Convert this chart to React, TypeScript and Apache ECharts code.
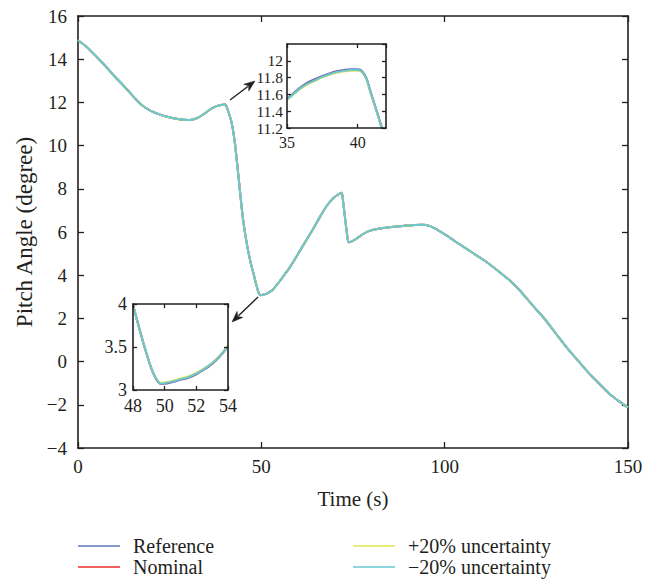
import React, { useEffect, useRef } from "react";
import * as echarts from "echarts";

// ---------- data ----------
const seriesNames = ["Reference", "Nominal", "+20% uncertainty", "\u221220% uncertainty"];
const seriesColors = ["#6274c2", "#ee2b2b", "#e4e44e", "#68c9d2"];

// main trajectory (all four responses coincide at this scale)
const timeS = [
  0, 2, 4, 6, 8, 10, 12, 14, 16, 18, 20, 22, 24, 26, 28, 30, 31, 32, 33, 34, 35, 36, 37, 38, 39, 40,
  40.4, 40.8, 41.3, 41.7, 42.2, 42.8, 43.5, 44.2, 45, 46, 47, 48, 48.4, 48.85, 49.25, 49.6, 49.9,
  50.5, 51.5, 52.5, 53.2, 54, 55, 56, 58, 60, 62, 64, 66, 68, 70, 71, 71.9, 72.3, 72.8, 73.3, 73.8,
  74.5, 76, 78, 79.5, 82, 85, 88, 91, 94, 96, 98, 100.5, 103, 106, 109, 111.5, 115, 118, 120.5,
  124, 127, 130, 133.3, 136.5, 139.6, 142.5, 145, 147.5, 150,
];
const pitchDeg = [
  14.88, 14.62, 14.3, 13.95, 13.58, 13.2, 12.85, 12.48, 12.1, 11.8, 11.6, 11.46, 11.35, 11.27, 11.21,
  11.19, 11.2, 11.24, 11.32, 11.43, 11.54, 11.67, 11.77, 11.84, 11.88, 11.9,
  11.86, 11.67, 11.42, 11.2, 10.8, 10.1, 9.0, 7.85, 6.6, 5.5, 4.65, 3.99, 3.7, 3.42, 3.19, 3.09, 3.07,
  3.1, 3.15, 3.25, 3.34, 3.51, 3.72, 3.95, 4.42, 4.98, 5.55, 6.1, 6.7, 7.25, 7.62, 7.74, 7.82, 7.4,
  6.7, 6.0, 5.52, 5.55, 5.7, 5.93, 6.05, 6.15, 6.22, 6.27, 6.31, 6.33, 6.27, 6.1, 5.84, 5.55, 5.22,
  4.88, 4.6, 4.14, 3.72, 3.29, 2.6, 2.03, 1.37, 0.65, 0.02, -0.58, -1.08, -1.5, -1.83, -2.12,
];

// inset 1 (35 s .. 42 s)
const inset1Time = [35, 35.5, 36, 36.5, 37, 37.5, 38, 38.5, 39, 39.5, 40, 40.3, 40.6, 40.9, 41.2, 41.5, 41.8, 42];
const inset1Reference = [11.55, 11.62, 11.69, 11.745, 11.785, 11.82, 11.85, 11.875, 11.89, 11.9, 11.9, 11.88, 11.8, 11.64, 11.48, 11.32, 11.15, 11.0];
const inset1Nominal = [11.54, 11.61, 11.68, 11.73, 11.77, 11.81, 11.84, 11.865, 11.88, 11.89, 11.89, 11.87, 11.79, 11.63, 11.47, 11.31, 11.14, 10.98];
const inset1Plus20 = [11.535, 11.605, 11.672, 11.722, 11.762, 11.802, 11.832, 11.857, 11.872, 11.882, 11.882, 11.862, 11.782, 11.622, 11.462, 11.3, 11.13, 10.975];
const inset1Minus20 = [11.54, 11.61, 11.68, 11.73, 11.77, 11.81, 11.84, 11.865, 11.88, 11.89, 11.89, 11.87, 11.79, 11.63, 11.47, 11.31, 11.14, 10.98];

// inset 2 (48 s .. 54 s)
const inset2Time = [48, 48.25, 48.5, 48.75, 49, 49.25, 49.5, 49.75, 50, 50.5, 51, 51.5, 52, 52.5, 53, 53.5, 54];
const inset2Reference = [3.99, 3.81, 3.645, 3.485, 3.335, 3.205, 3.115, 3.072, 3.073, 3.093, 3.118, 3.143, 3.183, 3.238, 3.303, 3.393, 3.503];
const inset2Nominal = [3.99, 3.82, 3.65, 3.49, 3.34, 3.21, 3.12, 3.075, 3.08, 3.1, 3.125, 3.15, 3.19, 3.245, 3.31, 3.4, 3.51];
const inset2Plus20 = [3.99, 3.82, 3.655, 3.495, 3.345, 3.215, 3.125, 3.08, 3.086, 3.106, 3.133, 3.158, 3.198, 3.253, 3.318, 3.406, 3.514];
const inset2Minus20 = [3.99, 3.82, 3.65, 3.49, 3.34, 3.21, 3.12, 3.075, 3.08, 3.1, 3.125, 3.15, 3.19, 3.245, 3.31, 3.4, 3.51];

const mainXTicks = { min: 0, max: 150, interval: 50 };
const mainYTicks = { min: -4, max: 16, interval: 2 };
const inset1XTicks = { min: 35, max: 42, interval: 5 };
const inset1YTicks = { min: 11.2, max: 12.2, interval: 0.2 };
const inset2XTicks = { min: 48, max: 54, interval: 2 };
const inset2YTicks = { min: 3, max: 4, interval: 0.5 };

const FONT = "'Liberation Serif', 'DejaVu Serif', serif";
const INK = "#231f20";

const zip = (xs: number[], ys: number[]) => xs.map((x, i) => [x, ys[i]]);
const minus = (v: any) => String(v).replace("-", "\u2212");

function axisPair(gridIndex: number, ticks: any, fontSize: number, margin: number, tickLen: number, kind: "x" | "y", hideMax: boolean, z: number) {
  const common = {
    type: "value",
    gridIndex,
    z,
    min: ticks.min,
    max: ticks.max,
    interval: ticks.interval,
    splitLine: { show: false },
    axisLine: { show: true, onZero: false, lineStyle: { color: INK, width: 1.6 } },
    axisTick: { show: true, inside: true, length: tickLen, lineStyle: { color: INK, width: 1.3 } },
  };
  const main = {
    ...common,
    position: kind === "x" ? "bottom" : "left",
    axisLabel: {
      show: true,
      margin,
      fontFamily: FONT,
      fontSize,
      color: INK,
      formatter: minus,
      showMaxLabel: !hideMax,
    },
  };
  const mirror = {
    ...common,
    position: kind === "x" ? "top" : "right",
    axisLabel: { show: false },
  };
  return [main, mirror];
}

export default function App() {
  const ref = useRef<HTMLDivElement>(null);

  useEffect(() => {
    if (!ref.current) return;
    const chart = echarts.init(ref.current, null, { renderer: "svg" });

    const xAxes: any[] = [
      ...axisPair(0, mainXTicks, 19, 9, 6, "x", false, 0),
      ...axisPair(1, inset1XTicks, 16, 6, 4, "x", true, 12),
      ...axisPair(2, inset2XTicks, 18, 7, 4, "x", false, 12),
    ];
    const yAxes: any[] = [
      ...axisPair(0, mainYTicks, 19, 11, 6, "y", false, 0),
      ...axisPair(1, inset1YTicks, 15.5, 4, 4, "y", true, 12),
      ...axisPair(2, inset2YTicks, 18, 6, 4, "y", false, 12),
    ];
    xAxes[0].name = "Time (s)";
    xAxes[0].nameLocation = "middle";
    xAxes[0].nameGap = 40;
    xAxes[0].nameTextStyle = { fontFamily: FONT, fontSize: 21, color: INK };
    yAxes[0].name = "Pitch Angle (degree)";
    yAxes[0].nameLocation = "middle";
    yAxes[0].nameGap = 42;
    yAxes[0].nameTextStyle = { fontFamily: FONT, fontSize: 23, color: INK };

    const mkSeries = (name: string, color: string, data: number[][], axisIdx: number) => ({
      type: "line",
      name,
      color,
      data,
      xAxisIndex: axisIdx,
      yAxisIndex: axisIdx,
      showSymbol: false,
      symbol: "none",
      smooth: 0.3,
      clip: true,
      lineStyle: { color, width: 2 },
      z: axisIdx === 0 ? 3 : 10,
    });

    const inset1 = [inset1Reference, inset1Nominal, inset1Plus20, inset1Minus20];
    const inset2 = [inset2Reference, inset2Nominal, inset2Plus20, inset2Minus20];
    const series: any[] = [];
    seriesNames.forEach((n, i) => series.push(mkSeries(n, seriesColors[i], zip(timeS, pitchDeg), 0)));
    // inset axes: index 2 (inset 1) and index 4 (inset 2)
    seriesNames.forEach((n, i) => series.push(mkSeries(n, seriesColors[i], zip(inset1Time, inset1[i]), 2)));
    seriesNames.forEach((n, i) => series.push(mkSeries(n, seriesColors[i], zip(inset2Time, inset2[i]), 4)));

    const legendText = { fontFamily: FONT, fontSize: 20, lineHeight: 18, color: INK, padding: [0, 0, 0, 8] };
    const legendPos = [
      { left: 78, top: 536 },
      { left: 78, top: 557 },
      { left: 353, top: 536 },
      { left: 353, top: 557 },
    ];
    const legends = seriesNames.map((n, i) => ({
      data: [n],
      orient: "horizontal",
      left: legendPos[i].left,
      top: legendPos[i].top,
      padding: 0,
      itemWidth: 42,
      itemHeight: 1.6,
      icon: "rect",
      selectedMode: false,
      textStyle: legendText,
    }));

    // arrow geometry (annotations)
    const arrow = (x1: number, y1: number, x2: number, y2: number) => {
      const dx = x2 - x1, dy = y2 - y1;
      const L = Math.hypot(dx, dy);
      const ux = dx / L, uy = dy / L;
      const nx = -uy, ny = ux;
      const hl = 11, hw = 4.2;
      const bx = x2 - ux * hl, by = y2 - uy * hl;
      return [
        { type: "line", shape: { x1, y1, x2: bx + ux * 2, y2: by + uy * 2 }, style: { stroke: INK, lineWidth: 1.4 }, z: 20 },
        {
          type: "polygon",
          shape: { points: [[x2, y2], [bx + nx * hw, by + ny * hw], [bx + ux * 3, by + uy * 3], [bx - nx * hw, by - ny * hw]] },
          style: { fill: INK, stroke: INK, lineWidth: 0.5 },
          z: 20,
        },
      ];
    };

    chart.setOption({
      animation: false,
      backgroundColor: "#ffffff",
      grid: [
        { left: 78, right: 28, top: 16, bottom: 131, show: false },
        { left: 287, top: 44, width: 99, height: 84, show: true, backgroundColor: "#ffffff", borderWidth: 0 },
        { left: 133, top: 304, width: 95, height: 86, show: true, backgroundColor: "#ffffff", borderWidth: 0 },
      ],
      xAxis: xAxes,
      yAxis: yAxes,
      legend: legends,
      graphic: [...arrow(230, 100, 255, 81), ...arrow(258, 297, 232, 322)],
      series,
    });

    return () => chart.dispose();
  }, []);

  return (
    <div
      ref={ref}
      style={{ position: "absolute", left: 0, top: 0, width: 656, height: 579, overflow: "hidden" }}
    />
  );
}
